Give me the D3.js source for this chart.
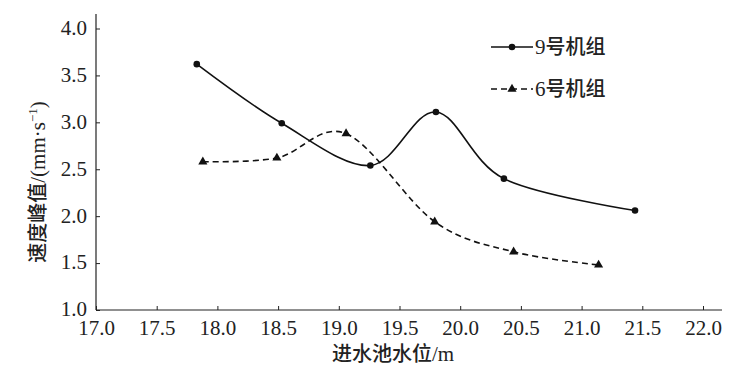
<!DOCTYPE html>
<html lang="zh">
<head>
  <meta charset="UTF-8">
  <title>速度峰值</title>
  <script src="https://d3js.org/d3.v7.min.js"></script>
  <style>
    body, html { margin: 0; padding: 0; background: #fff; overflow: hidden; }
  </style>
</head>
<body>
<script>
  // data
  const xTicks = [17.0, 17.5, 18.0, 18.5, 19.0, 19.5, 20.0, 20.5, 21.0, 21.5, 22.0];
  const yTicks = [1.0, 1.5, 2.0, 2.5, 3.0, 3.5, 4.0];
  const unit9X = [17.83, 18.53, 19.26, 19.80, 20.36, 21.44];
  const unit9Y = [3.62, 2.99, 2.54, 3.11, 2.40, 2.06];
  const unit6X = [17.88, 18.49, 19.06, 19.79, 20.44, 21.14];
  const unit6Y = [2.58, 2.62, 2.88, 1.94, 1.62, 1.48];

  const W = 736, H = 373;
  const SERIF = "'Times New Roman', 'Liberation Serif', 'DejaVu Serif', serif";
  const CJK = "'Noto Sans CJK SC', 'Noto Sans CJK JP', sans-serif";

  const svg = d3.select("body").append("svg")
    .attr("width", W)
    .attr("height", H);

  const x = d3.scaleLinear().domain([17, 22]).range([96, 703]);
  const y = d3.scaleLinear().domain([1, 4]).range([310, 28.5]);

  // axis lines (extend a bit past the last ticks)
  svg.append("line")
    .attr("x1", x(17)).attr("x2", 722)
    .attr("y1", y(1)).attr("y2", y(1))
    .attr("stroke", "#222").attr("stroke-width", 1.2);
  svg.append("line")
    .attr("x1", x(17)).attr("x2", x(17))
    .attr("y1", y(1)).attr("y2", 14)
    .attr("stroke", "#222").attr("stroke-width", 1.2);

  // x axis
  const xAxis = svg.append("g")
    .attr("transform", `translate(0,${y(1)})`)
    .call(d3.axisBottom(x).tickValues(xTicks).tickFormat(d3.format(".1f"))
      .tickSizeInner(-4).tickSizeOuter(0).tickPadding(10));
  xAxis.select(".domain").remove();
  xAxis.selectAll("line").attr("stroke", "#222");
  xAxis.selectAll("text")
    .style("font-family", SERIF).style("font-size", "21px").attr("fill", "#222");

  // y axis
  const yAxis = svg.append("g")
    .attr("transform", `translate(${x(17)},0)`)
    .call(d3.axisLeft(y).tickValues(yTicks).tickFormat(d3.format(".1f"))
      .tickSizeInner(-4).tickSizeOuter(0).tickPadding(9));
  yAxis.select(".domain").remove();
  yAxis.selectAll("line").attr("stroke", "#222");
  yAxis.selectAll("text")
    .style("font-family", SERIF).style("font-size", "21px").attr("fill", "#222")
    .attr("dy", "0.28em");

  // axis titles
  const xt = svg.append("text")
    .attr("x", 393).attr("y", 361)
    .attr("text-anchor", "middle")
    .style("font-size", "20px").attr("fill", "#222");
  xt.append("tspan").style("font-family", CJK).style("font-weight", 500).text("进水池水位");
  xt.append("tspan").style("font-family", SERIF).style("font-size", "21px").text("/m");

  const yt = svg.append("text")
    .attr("transform", "translate(45,182) rotate(-90)")
    .attr("text-anchor", "middle")
    .style("font-size", "20px").attr("fill", "#222");
  yt.append("tspan").style("font-family", CJK).style("font-weight", 500).text("速度峰值");
  yt.append("tspan").style("font-family", SERIF).style("font-size", "21px").text("/(mm·s");
  yt.append("tspan").style("font-family", SERIF).style("font-size", "13px").attr("dy", -8).text("−1");
  yt.append("tspan").style("font-family", SERIF).style("font-size", "21px").attr("dy", 8).text(")");

  // series
  const line = d3.line()
    .x(d => x(d[0])).y(d => y(d[1]))
    .curve(d3.curveCardinal.tension(0));

  const s9 = unit9X.map((v, i) => [v, unit9Y[i]]);
  const s6 = unit6X.map((v, i) => [v, unit6Y[i]]);

  svg.append("path").datum(s9)
    .attr("d", line)
    .attr("fill", "none").attr("stroke", "#111").attr("stroke-width", 1.6);
  svg.append("path").datum(s6)
    .attr("d", line)
    .attr("fill", "none").attr("stroke", "#111").attr("stroke-width", 1.6)
    .attr("stroke-dasharray", "6,4");

  svg.selectAll(".dot").data(s9).enter().append("circle")
    .attr("cx", d => x(d[0])).attr("cy", d => y(d[1]))
    .attr("r", 3.3).attr("fill", "#111");

  const tri = d3.symbol().type(d3.symbolTriangle).size(36);
  svg.selectAll(".tri").data(s6).enter().append("path")
    .attr("d", tri)
    .attr("transform", d => `translate(${x(d[0])},${y(d[1])})`)
    .attr("fill", "#111");

  // legend
  const legend = [
    { name: "9号机组", y: 47, dash: null, mark: "dot" },
    { name: "6号机组", y: 89, dash: "6,4", mark: "tri" }
  ];
  legend.forEach(l => {
    svg.append("line")
      .attr("x1", 491).attr("x2", 533)
      .attr("y1", l.y).attr("y2", l.y)
      .attr("stroke", "#111").attr("stroke-width", 1.4)
      .attr("stroke-dasharray", l.dash);
    if (l.mark === "dot") {
      svg.append("circle").attr("cx", 512).attr("cy", l.y).attr("r", 3.3).attr("fill", "#111");
    } else {
      svg.append("path").attr("d", tri).attr("transform", `translate(512,${l.y})`).attr("fill", "#111");
    }
    const t = svg.append("text")
      .attr("x", 535).attr("y", l.y + 7)
      .style("font-size", "20px").attr("fill", "#222");
    t.append("tspan").style("font-family", SERIF).style("font-size", "21px").text(l.name.slice(0, 1));
    t.append("tspan").style("font-family", CJK).style("font-weight", 500).text(l.name.slice(1));
  });
</script>
</body>
</html>
